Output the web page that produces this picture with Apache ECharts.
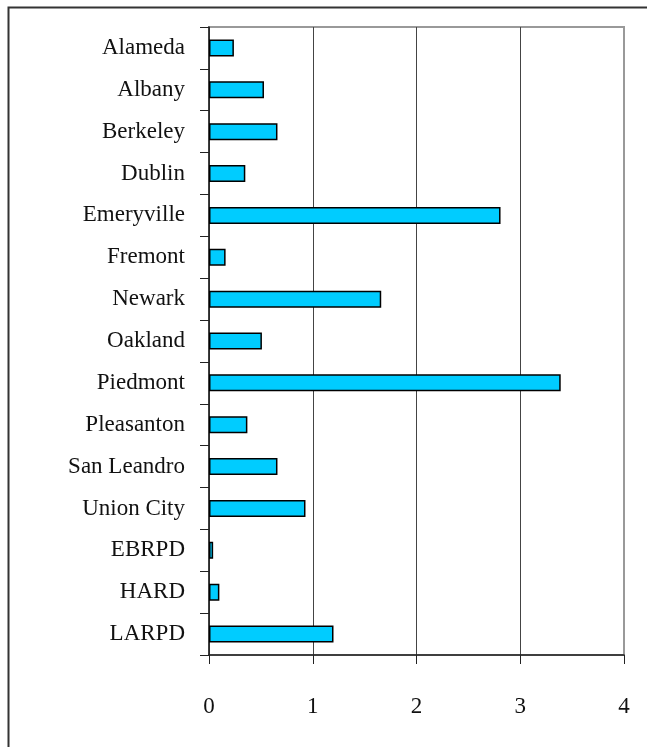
<!DOCTYPE html>
<html>
<head>
<meta charset="utf-8">
<script src="https://cdn.jsdelivr.net/npm/echarts@6/dist/echarts.min.js"></script>
<style>
  html, body { margin: 0; padding: 0; background: #fff; }
  #chart { width: 647px; height: 747px; }
</style>
</head>
<body>
<div id="chart"></div>
<script>
// 各地区数值（自上而下）
var categories = ["Alameda", "Albany", "Berkeley", "Dublin", "Emeryville", "Fremont", "Newark",
  "Oakland", "Piedmont", "Pleasanton", "San Leandro", "Union City", "EBRPD", "HARD", "LARPD"];
var values = [0.24, 0.53, 0.66, 0.35, 2.81, 0.16, 1.66, 0.51, 3.39, 0.37, 0.66, 0.93, 0.04, 0.1, 1.2];
var xTicks = [0, 1, 2, 3, 4];

var font = "'Liberation Serif', 'DejaVu Serif', serif";
var myChart = echarts.init(document.getElementById("chart"));
myChart.setOption({
  backgroundColor: "#fff",
  animation: false,
  graphic: [
    {
      type: "rect",
      shape: { x: 8.5, y: 7.5, width: 700, height: 800 },
      style: { fill: "none", stroke: "#333", lineWidth: 2 },
    },
  ],
  grid: {
    left: 209,
    top: 27,
    right: 23,
    bottom: 92,
    show: true,
    borderColor: "#999",
    borderWidth: 2,
  },
  xAxis: {
    type: "value",
    min: xTicks[0],
    max: xTicks[xTicks.length - 1],
    interval: 1,
    axisLine: { show: true, lineStyle: { color: "#222", width: 1.5 } },
    axisTick: { show: true, length: 9, lineStyle: { color: "#222" } },
    axisLabel: { margin: 40, fontFamily: font, fontSize: 23, color: "#111" },
    splitLine: { show: true, lineStyle: { color: ["#444", "#444", "#444", "#444", "#999"], width: 1 } },
  },
  yAxis: {
    type: "category",
    data: categories,
    inverse: true,
    axisLine: { show: true, lineStyle: { color: "#222", width: 1.5 } },
    axisTick: { show: true, length: 9, lineStyle: { color: "#222" } },
    axisLabel: { margin: 24, fontFamily: font, fontSize: 23, color: "#111" },
    splitLine: { show: false },
  },
  series: [
    {
      type: "bar",
      data: values,
      barWidth: 17,
      itemStyle: { color: "#00CCFF", borderColor: "#000", borderWidth: 1.5 },
    },
  ],
});
</script>
</body>
</html>
